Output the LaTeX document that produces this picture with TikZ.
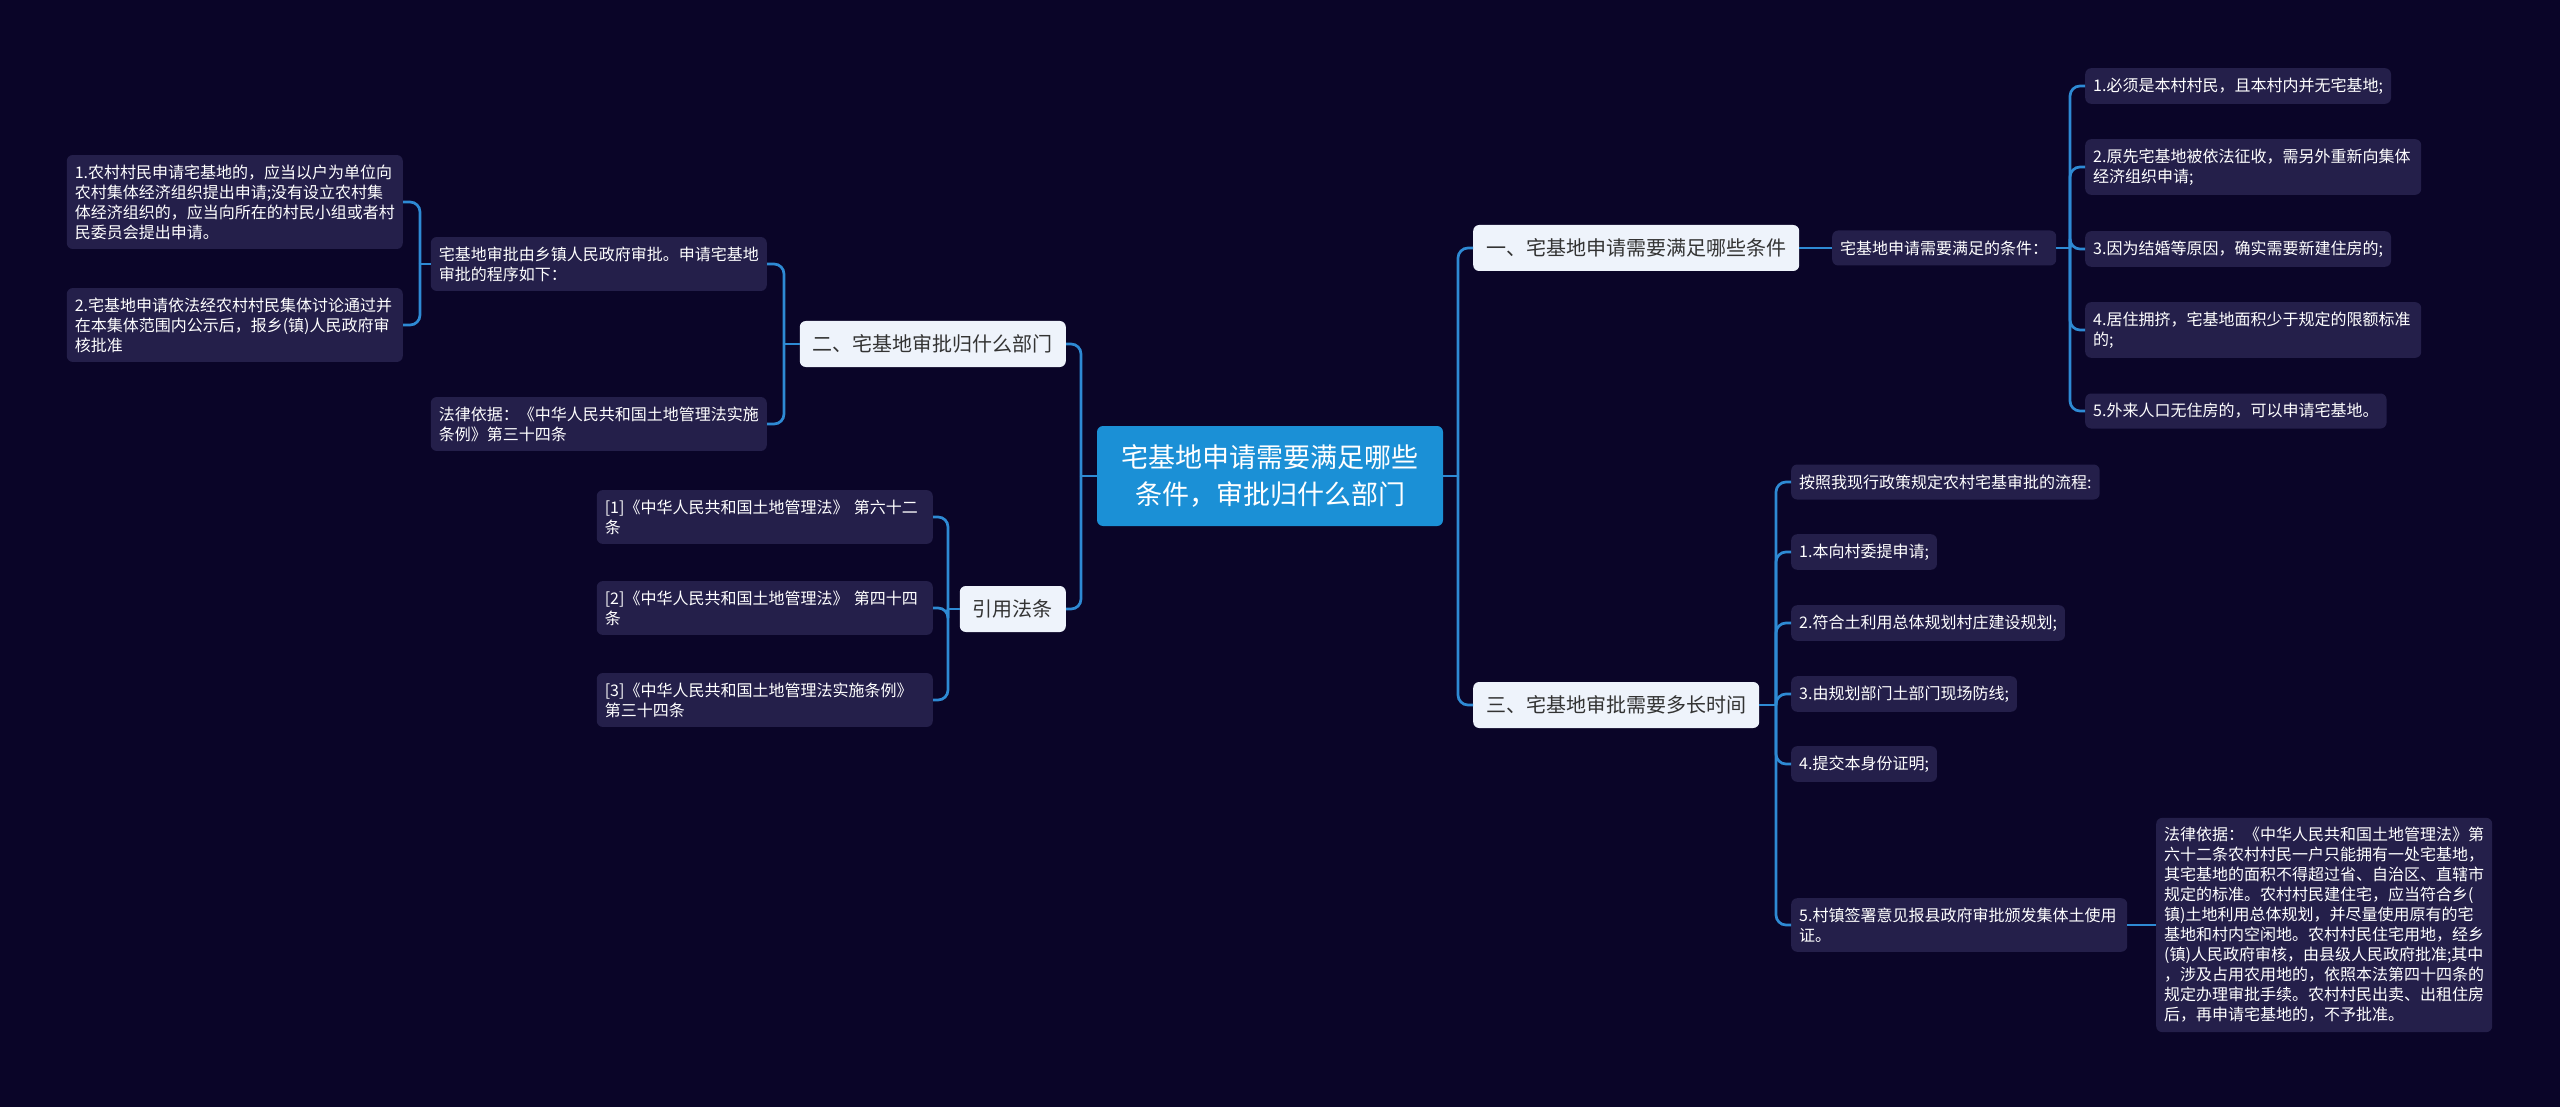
\documentclass[tikz,border=0pt]{standalone}
\usepackage{fontspec}
\setmainfont{Noto Sans CJK SC}
\definecolor{bgcol}{HTML}{0A0528}
\definecolor{rootcol}{HTML}{1B90D6}
\definecolor{topiccol}{HTML}{EEF3FB}
\definecolor{leafcol}{HTML}{241F4A}
\definecolor{linecol}{HTML}{2E8AD4}

\begin{document}
\begin{tikzpicture}[x=1pt,y=-1pt,
    rootbox/.style={fill=rootcol,text=white,rounded corners=6pt,align=center,
      minimum width=346pt,minimum height=100pt,font=\fontsize{27}{37}\selectfont},
    topic/.style={fill=topiccol,text=black!80,rounded corners=6pt,inner xsep=13pt,
      minimum height=46pt,font=\fontsize{20}{24}\selectfont},
    leaf/.style={fill=leafcol,text=white,rounded corners=6pt,inner xsep=8pt,inner ysep=9.5pt,
      minimum height=35pt,align=left,font=\fontsize{16}{20}\selectfont},
    wide/.style={text width=320pt},
    stub/.style={draw=linecol,line width=2.7pt},
    conn/.style={draw=linecol,line width=2.7pt,rounded corners=10pt,to path={|- (\tikztotarget)}}]

      \fill[bgcol] (0,0) rectangle (2560,1107);

      \node[rootbox] (root) at (1270,476) {宅基地申请需要满足哪些\\条件，审批归什么部门};

      \begin{scope}[every node/.style={topic}]
        \node[anchor=west] (t1) at (1473,248) {一、宅基地申请需要满足哪些条件};
        \node[anchor=west] (t3) at (1473,705) {三、宅基地审批需要多长时间};
        \node[anchor=east] (t2) at (1066,344) {二、宅基地审批归什么部门};
        \node[anchor=east] (t4) at (1066,609) {引用法条};
      \end{scope}

      \coordinate (jr) at (1458,476);
      \coordinate (jl) at (1081,476);
      \coordinate (jc) at (2070,248);
      \coordinate (js) at (1776,705);
      \coordinate (jb) at (784,344);
      \coordinate (ja) at (420,264);
      \coordinate (jd) at (948,609);

      \begin{scope}[every node/.style={leaf}]
        \node[anchor=west] (c0) at (1832,248) {宅基地申请需要满足的条件：};
        \node[anchor=west] (c1) at (2085,86) {1.必须是本村村民，且本村内并无宅基地;};
        \node[anchor=west,wide] (c2) at (2085,167) {2.原先宅基地被依法征收，需另外重新向集体\\经济组织申请;};
        \node[anchor=west] (c3) at (2085,249) {3.因为结婚等原因，确实需要新建住房的;};
        \node[anchor=west,wide] (c4) at (2085,330) {4.居住拥挤，宅基地面积少于规定的限额标准\\的;};
        \node[anchor=west] (c5) at (2085,411) {5.外来人口无住房的，可以申请宅基地。};

        \node[anchor=west] (s0) at (1791,482) {按照我现行政策规定农村宅基审批的流程:};
        \node[anchor=west] (s1) at (1791,552) {1.本向村委提申请;};
        \node[anchor=west] (s2) at (1791,623) {2.符合土利用总体规划村庄建设规划;};
        \node[anchor=west] (s3) at (1791,694) {3.由规划部门土部门现场防线;};
        \node[anchor=west] (s4) at (1791,764) {4.提交本身份证明;};
        \node[anchor=west,wide] (s5) at (1791,925) {5.村镇签署意见报县政府审批颁发集体土使用\\证。};
        \node[anchor=west,wide] (law) at (2156,925) {法律依据：《中华人民共和国土地管理法》第\\六十二条农村村民一户只能拥有一处宅基地，\\其宅基地的面积不得超过省、自治区、直辖市\\规定的标准。农村村民建住宅，应当符合乡(\\镇)土地利用总体规划，并尽量使用原有的宅\\基地和村内空闲地。农村村民住宅用地，经乡\\(镇)人民政府审核，由县级人民政府批准;其中\\，涉及占用农用地的，依照本法第四十四条的\\规定办理审批手续。农村村民出卖、出租住房\\后，再申请宅基地的，不予批准。};

        \node[anchor=east,wide] (b0) at (767,264) {宅基地审批由乡镇人民政府审批。申请宅基地\\审批的程序如下：};
        \node[anchor=east,wide] (b1) at (767,424) {法律依据：《中华人民共和国土地管理法实施\\条例》第三十四条};
        \node[anchor=east,wide] (a1) at (403,202) {1.农村村民申请宅基地的，应当以户为单位向\\农村集体经济组织提出申请;没有设立农村集\\体经济组织的，应当向所在的村民小组或者村\\民委员会提出申请。};
        \node[anchor=east,wide] (a2) at (403,325) {2.宅基地申请依法经农村村民集体讨论通过并\\在本集体范围内公示后，报乡(镇)人民政府审\\核批准};

        \node[anchor=east,wide] (d1) at (933,517) {[1]《中华人民共和国土地管理法》~第六十二\\条};
        \node[anchor=east,wide] (d2) at (933,608) {[2]《中华人民共和国土地管理法》~第四十四\\条};
        \node[anchor=east,wide] (d3) at (933,700) {[3]《中华人民共和国土地管理法实施条例》\\第三十四条};
      \end{scope}

      \path (root) edge[stub] (jr);
      \path (root) edge[stub] (jl);
      \path (jr) edge[conn] (t1);
      \path (jr) edge[conn] (t3);
      \path (jl) edge[conn] (t2);
      \path (jl) edge[conn] (t4);

      \path (t1) edge[stub] (c0);
      \path (c0) edge[stub] (jc);
      \foreach \n in {c1,c2,c3,c4,c5}
        \path (jc) edge[conn] (\n);

      \path (t3) edge[stub] (js);
      \foreach \n in {s0,s1,s2,s3,s4,s5}
        \path (js) edge[conn] (\n);
      \path (s5) edge[stub] (law);

      \path (t2) edge[stub] (jb);
      \path (jb) edge[conn] (b0);
      \path (jb) edge[conn] (b1);
      \path (b0) edge[stub] (ja);
      \path (ja) edge[conn] (a1);
      \path (ja) edge[conn] (a2);

      \path (t4) edge[stub] (jd);
      \foreach \n in {d1,d2,d3}
        \path (jd) edge[conn] (\n);
    \end{tikzpicture}
\end{document}
